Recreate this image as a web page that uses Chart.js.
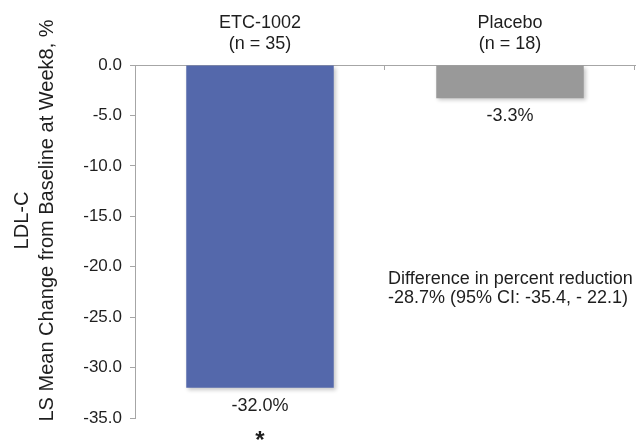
<!DOCTYPE html>
<html>
<head>
<meta charset="utf-8">
<script src="https://cdn.jsdelivr.net/npm/chart.js@4/dist/chart.umd.min.js"></script>
<style>
  html, body { margin: 0; padding: 0; background: #ffffff; }
  #wrap { width: 638px; height: 441px; }
</style>
</head>
<body>
<div id="wrap"><canvas id="chart" width="638" height="441"></canvas></div>
<script>
// Treatment groups and LS mean percent change in LDL-C at week 8
const groups = ['ETC-1002', 'Placebo'];
const groupSizes = [35, 18];
const meanChange = [-32.0, -3.3];
const significance = ['*', ''];
const barColors = ['#5468ab', '#999999'];

// Value axis ticks
const yTicks = [0, -5, -10, -15, -20, -25, -30, -35];

// Axis title and the note on the between-group difference
const yTitle = ['LDL-C', 'LS Mean Change from Baseline at Week8, %'];
const noteLines = ['Difference in percent reduction', '-28.7% (95% CI: -35.4, - 22.1)'];

const FONT = '"Liberation Sans", Arial, Helvetica, sans-serif';
const TEXT = '#1e1e1e';
const AXIS = '#a6a6a6';

const categoryLabels = groups.map((g, i) => [g, '(n = ' + groupSizes[i] + ')']);

// Soft drop shadow under the bars
const barShadow = {
  id: 'barShadow',
  beforeDatasetsDraw(chart) {
    const ctx = chart.ctx;
    ctx.save();
    ctx.shadowColor = 'rgba(0,0,0,0.22)';
    ctx.shadowBlur = 4;
    ctx.shadowOffsetX = 2;
    ctx.shadowOffsetY = 2;
  },
  afterDatasetsDraw(chart) {
    chart.ctx.restore();
  }
};

// Value labels, significance marks, the note and the two-line y title
const annotations = {
  id: 'annotations',
  afterDatasetsDraw(chart) {
    const ctx = chart.ctx;
    const area = chart.chartArea;
    const meta = chart.getDatasetMeta(0);
    ctx.save();
    ctx.fillStyle = TEXT;
    ctx.textAlign = 'center';
    meta.data.forEach((bar, i) => {
      ctx.font = '18px ' + FONT;
      ctx.textBaseline = 'middle';
      ctx.fillText(meanChange[i].toFixed(1) + '%', bar.x, bar.y + 18);
      if (significance[i]) {
        ctx.font = 'bold 24px ' + FONT;
        ctx.textBaseline = 'alphabetic';
        ctx.fillText(significance[i], bar.x, bar.y + 60);
      }
    });

    // note on the difference between groups
    ctx.font = '18px ' + FONT;
    ctx.textAlign = 'left';
    ctx.textBaseline = 'middle';
    noteLines.forEach((line, k) => {
      ctx.fillText(line, area.left + 253, area.top + 214 + k * 19.5);
    });

    // y title, centred on the canvas height
    ctx.font = '20px ' + FONT;
    ctx.textAlign = 'center';
    ctx.textBaseline = 'middle';
    ctx.translate(0, chart.height / 2);
    ctx.rotate(-Math.PI / 2);
    yTitle.forEach((line, k) => {
      ctx.fillText(line, 0, 22 + k * 25);
    });
    ctx.restore();
  }
};

// Short tick marks hanging below the top axis at category boundaries
const categoryTicks = {
  id: 'categoryTicks',
  afterDraw(chart) {
    const x = chart.scales.x;
    const ctx = chart.ctx;
    const n = x.ticks.length;
    const step = (x.right - x.left) / n;
    ctx.save();
    ctx.strokeStyle = AXIS;
    ctx.lineWidth = 1;
    for (let i = 1; i <= n; i++) {
      const px = Math.round(x.left + step * i) - 0.5;
      ctx.beginPath();
      ctx.moveTo(px, x.bottom);
      ctx.lineTo(px, x.bottom + 5);
      ctx.stroke();
    }
    ctx.restore();
  }
};

new Chart(document.getElementById('chart'), {
  type: 'bar',
  data: {
    labels: categoryLabels,
    datasets: [{
      data: meanChange,
      backgroundColor: barColors,
      borderWidth: 0,
      barPercentage: 0.59,
      categoryPercentage: 1.0
    }]
  },
  options: {
    responsive: false,
    animation: false,
    devicePixelRatio: 1,
    layout: { padding: { left: 0, top: 0, right: 3, bottom: 23 } },
    plugins: {
      legend: { display: false },
      tooltip: { enabled: false }
    },
    scales: {
      x: {
        position: 'top',
        offset: true,
        grid: { display: false },
        border: { display: true, color: AXIS, width: 1 },
        ticks: {
          color: TEXT,
          padding: 3,
          maxRotation: 0,
          font: { family: FONT, size: 18, lineHeight: 1.15 }
        },
        afterFit(scale) { scale.height = 65; }
      },
      y: {
        min: -35,
        max: 0,
        grid: {
          drawOnChartArea: false,
          drawTicks: true,
          tickLength: 5,
          color: AXIS
        },
        border: { display: true, color: AXIS, width: 1 },
        ticks: {
          color: TEXT,
          padding: 8,
          font: { family: FONT, size: 17 },
          callback: v => v.toFixed(1)
        },
        afterBuildTicks(scale) {
          scale.ticks = yTicks.map(v => ({ value: v }));
        },
        afterFit(scale) { scale.width = 135; }
      }
    }
  },
  plugins: [barShadow, annotations, categoryTicks]
});
</script>
</body>
</html>
